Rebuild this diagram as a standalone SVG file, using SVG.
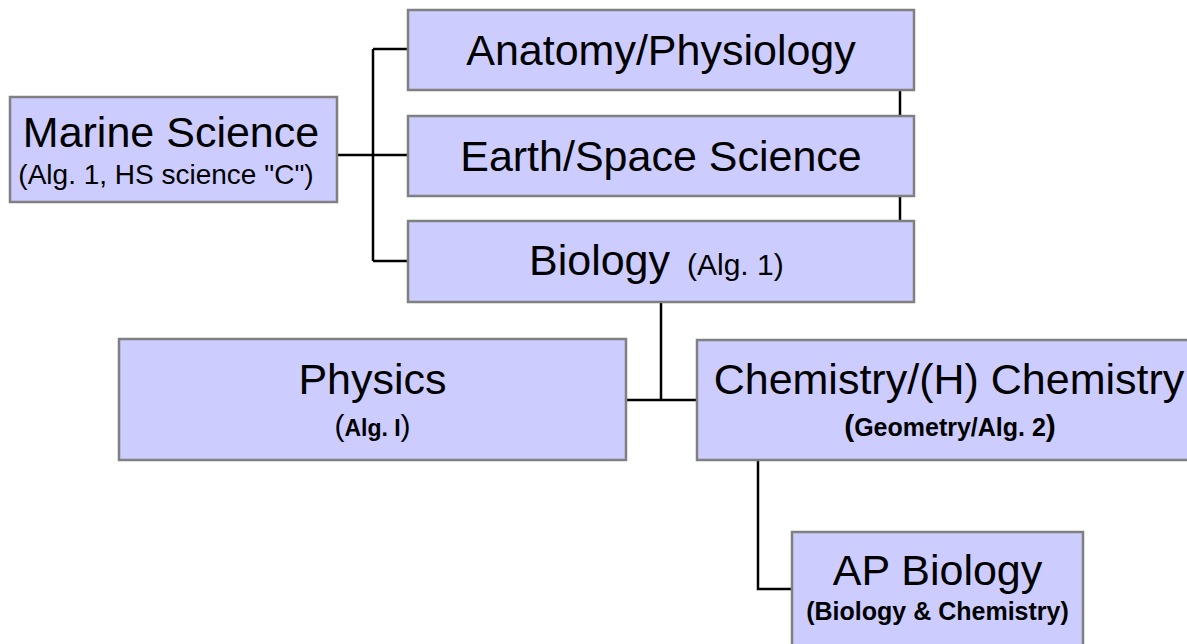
<svg xmlns="http://www.w3.org/2000/svg" width="1187" height="644" viewBox="0 0 1187 644">
<style>
.box{fill:#ccccff;stroke:#808080;stroke-width:2.5}
.c{fill:none;stroke:#000;stroke-width:2.5}
text{font-family:"Liberation Sans",Arial,sans-serif;fill:#000}
.t{font-size:43px;text-anchor:middle}
.s{font-size:28px;text-anchor:middle}
.b{font-weight:bold}
</style>
<rect width="1187" height="644" fill="#ffffff"/>
<g id="connectors">
<path class="c" d="M337 155H408M373 49V261M373 49H408M373 261H408"/>
<path class="c" d="M900 90V221"/>
<path class="c" d="M661 302V400M626 400H697"/>
<path class="c" d="M758 460V589H792"/>
</g>
<g id="marine">
<rect class="box" x="10" y="97" width="327" height="105"/>
<text class="t" x="171" y="147">Marine Science</text>
<text class="s" x="166" y="184">(Alg. 1, HS science "C")</text>
</g>
<g id="anatomy">
<rect class="box" x="408" y="10" width="506" height="80"/>
<text class="t" x="661" y="65">Anatomy/Physiology</text>
</g>
<g id="earth">
<rect class="box" x="408" y="116" width="506" height="80"/>
<text class="t" x="661" y="171">Earth/Space Science</text>
</g>
<g id="biology">
<rect class="box" x="408" y="221" width="506" height="81"/>
<text x="529" y="275" style="font-size:43px">Biology<tspan x="687" style="font-size:30px">(Alg. 1)</tspan></text>
</g>
<g id="physics">
<rect class="box" x="119" y="339" width="507" height="121"/>
<text class="t" x="372.5" y="394">Physics</text>
<text x="372.5" y="436" style="text-anchor:middle;font-size:30px">(<tspan class="b" style="font-size:23px">Alg. I</tspan>)</text>
</g>
<g id="chemistry">
<rect class="box" x="697" y="340" width="506" height="120"/>
<text class="t" x="949" y="394">Chemistry/(H) Chemistry</text>
<text class="b" x="950" y="436" style="text-anchor:middle;font-size:30px">(<tspan style="font-size:25px">Geometry/Alg. 2</tspan>)</text>
</g>
<g id="apbiology">
<rect class="box" x="792" y="532" width="291" height="120"/>
<text class="t" x="937.5" y="585">AP Biology</text>
<text class="b" x="937.5" y="620" style="text-anchor:middle;font-size:25px">(Biology &amp; Chemistry)</text>
</g>
</svg>
